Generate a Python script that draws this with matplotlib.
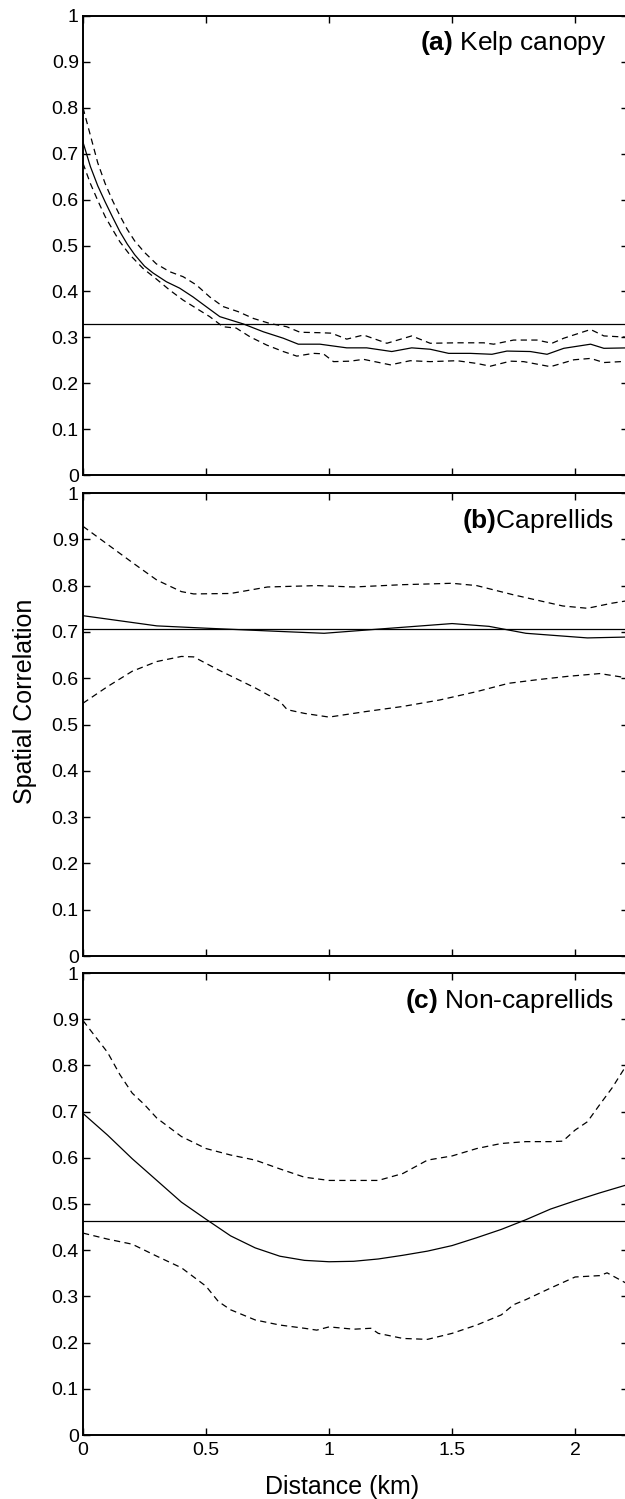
import matplotlib.pyplot as plt

plt.rcParams['font.family'] = ['Liberation Sans', 'DejaVu Sans']
plt.rcParams['mathtext.fontset'] = 'custom'
plt.rcParams['mathtext.rm'] = 'Liberation Sans'
plt.rcParams['mathtext.bf'] = 'Liberation Sans:bold'

# --------------------
# (a) Kelp canopy
# --------------------
kelp_mean_x = [0, 0.03, 0.06, 0.09, 0.12, 0.15, 0.18, 0.21, 0.25, 0.285, 0.339, 0.393, 0.447,
               0.50, 0.556, 0.598, 0.652, 0.733, 0.814, 0.875, 0.963, 1.072, 1.153, 1.255,
               1.336, 1.411, 1.486, 1.574, 1.662, 1.723, 1.818, 1.886, 1.954, 2.063, 2.117, 2.22]
kelp_mean = [0.725, 0.672, 0.63, 0.595, 0.562, 0.53, 0.503, 0.48, 0.455, 0.44, 0.421, 0.407,
             0.388, 0.367, 0.345, 0.338, 0.329, 0.312, 0.298, 0.285, 0.285, 0.277, 0.277, 0.269,
             0.277, 0.274, 0.265, 0.265, 0.263, 0.27, 0.269, 0.263, 0.276, 0.285, 0.276, 0.277]
kelp_upper_x = [0, 0.03, 0.06, 0.09, 0.12, 0.15, 0.18, 0.21, 0.25, 0.298, 0.352, 0.407, 0.461,
                0.515, 0.569, 0.63, 0.693, 0.76, 0.828, 0.882, 0.963, 1.01, 1.072, 1.14,
                1.235, 1.336, 1.411, 1.52, 1.628, 1.669, 1.75, 1.845, 1.906, 1.954, 2.063,
                2.117, 2.22]
kelp_upper = [0.80, 0.74, 0.68, 0.635, 0.598, 0.565, 0.535, 0.51, 0.485, 0.46, 0.443, 0.432,
              0.414, 0.388, 0.367, 0.356, 0.341, 0.33, 0.323, 0.311, 0.31, 0.309, 0.296, 0.305,
              0.287, 0.303, 0.287, 0.288, 0.288, 0.285, 0.294, 0.294, 0.287, 0.298, 0.317,
              0.303, 0.30]
kelp_lower_x = [0, 0.03, 0.06, 0.09, 0.12, 0.15, 0.19, 0.244, 0.298, 0.352, 0.407, 0.461,
                0.515, 0.569, 0.623, 0.679, 0.747, 0.814, 0.869, 0.936, 0.977, 1.018, 1.086,
                1.14, 1.249, 1.33, 1.411, 1.52, 1.601, 1.655, 1.737, 1.791, 1.9, 1.995,
                2.063, 2.117, 2.22]
kelp_lower = [0.679, 0.635, 0.598, 0.563, 0.535, 0.508, 0.48, 0.45, 0.427, 0.403, 0.381, 0.363,
              0.345, 0.323, 0.32, 0.301, 0.283, 0.269, 0.259, 0.265, 0.264, 0.247, 0.248,
              0.252, 0.24, 0.249, 0.247, 0.249, 0.243, 0.237, 0.248, 0.247, 0.236, 0.251,
              0.254, 0.245, 0.248]
kelp_ref = 0.33

# --------------------
# (b) Caprellids
# --------------------
cap_mean_x = [0, 0.3, 0.5, 0.8, 0.98, 1.2, 1.5, 1.65, 1.8, 2.05, 2.22]
cap_mean = [0.735, 0.713, 0.708, 0.701, 0.697, 0.706, 0.718, 0.712, 0.697, 0.687, 0.689]
cap_upper_x = [0, 0.1, 0.2, 0.3, 0.4, 0.45, 0.6, 0.75, 0.95, 1.1, 1.3, 1.5, 1.6, 1.75,
               1.95, 2.05, 2.15, 2.22]
cap_upper = [0.928, 0.889, 0.85, 0.812, 0.787, 0.782, 0.783, 0.797, 0.80, 0.797, 0.802, 0.805,
             0.80, 0.78, 0.756, 0.751, 0.762, 0.768]
cap_lower_x = [0, 0.1, 0.2, 0.3, 0.4, 0.45, 0.55, 0.7, 0.8, 0.83, 0.9, 1.0, 1.15, 1.3, 1.45,
               1.6, 1.73, 1.85, 1.97, 2.1, 2.22]
cap_lower = [0.546, 0.582, 0.615, 0.636, 0.647, 0.646, 0.618, 0.579, 0.55, 0.532, 0.524, 0.516,
             0.528, 0.539, 0.553, 0.571, 0.589, 0.597, 0.604, 0.61, 0.60]
cap_ref = 0.707

# --------------------
# (c) Non-caprellids
# --------------------
non_mean_x = [0, 0.1, 0.2, 0.3, 0.4, 0.5, 0.6, 0.7, 0.8, 0.9, 1.0, 1.1, 1.2, 1.3, 1.4, 1.5,
              1.6, 1.7, 1.8, 1.9, 2.0, 2.1, 2.22]
non_mean = [0.696, 0.649, 0.598, 0.551, 0.504, 0.467, 0.431, 0.405, 0.387, 0.378, 0.375, 0.376,
            0.381, 0.389, 0.398, 0.41, 0.427, 0.445, 0.466, 0.489, 0.507, 0.524, 0.543]
non_upper_x = [0, 0.1, 0.15, 0.2, 0.25, 0.3, 0.4, 0.5, 0.6, 0.7, 0.8, 0.9, 1.0, 1.1, 1.2, 1.3,
               1.4, 1.5, 1.6, 1.7, 1.8, 1.9, 1.95, 2.0, 2.05, 2.1, 2.15, 2.22]
non_upper = [0.897, 0.828, 0.78, 0.74, 0.715, 0.686, 0.646, 0.62, 0.606, 0.595, 0.576, 0.558,
             0.551, 0.551, 0.551, 0.566, 0.595, 0.604, 0.62, 0.631, 0.635, 0.635, 0.636, 0.66,
             0.678, 0.715, 0.751, 0.81]
non_lower_x = [0, 0.1, 0.2, 0.3, 0.4, 0.5, 0.55, 0.6, 0.7, 0.8, 0.9, 0.95, 1.0, 1.1, 1.17, 1.2,
               1.3, 1.4, 1.5, 1.6, 1.7, 1.75, 1.8, 1.9, 2.0, 2.1, 2.13, 2.22]
non_lower = [0.437, 0.424, 0.413, 0.387, 0.362, 0.322, 0.289, 0.271, 0.249, 0.238, 0.231, 0.227,
             0.234, 0.229, 0.231, 0.22, 0.209, 0.207, 0.22, 0.238, 0.26, 0.282, 0.293, 0.318,
             0.342, 0.345, 0.351, 0.325]
non_ref = 0.464

panels = [
    (kelp_mean_x, kelp_mean, kelp_upper_x, kelp_upper, kelp_lower_x, kelp_lower, kelp_ref,
     r'$\mathbf{(a)}$ Kelp canopy', 2.13),
    (cap_mean_x, cap_mean, cap_upper_x, cap_upper, cap_lower_x, cap_lower, cap_ref,
     r'$\mathbf{(b)}$Caprellids', 2.16),
    (non_mean_x, non_mean, non_upper_x, non_upper, non_lower_x, non_lower, non_ref,
     r'$\mathbf{(c)}$ Non-caprellids', 2.16),
]

W, H = 625, 1499
fig = plt.figure(figsize=(W / 100, H / 100), dpi=100)

# axes boxes in pixels: (top, bottom)
boxes = [(16, 475), (493, 956), (973, 1435)]
left_px, right_px = 83, 628

yticks = [i / 10 for i in range(11)]
ylabels = ['0'] + ['%.1f' % v for v in yticks[1:-1]] + ['1']

for i, (box, p) in enumerate(zip(boxes, panels)):
    top, bottom = box
    ax = fig.add_axes([left_px / W, 1 - bottom / H, (right_px - left_px) / W, (bottom - top) / H])
    mx, m, ux, u, lx, l, ref, title, tx = p

    ax.plot(mx, m, color='black', lw=0.9)
    ax.plot(ux, u, color='black', lw=0.9, dashes=(5, 3.5))
    ax.plot(lx, l, color='black', lw=0.9, dashes=(5, 3.5))
    ax.axhline(ref, color='black', lw=0.9)

    ax.set_xlim(0, 2.215)
    ax.set_ylim(0, 1)
    ax.set_yticks(yticks)
    ax.set_yticklabels(ylabels)
    ax.set_xticks([0, 0.5, 1, 1.5, 2])
    if i == 2:
        ax.set_xticklabels(['0', '0.5', '1', '1.5', '2'])
    else:
        ax.set_xticklabels([])

    ax.tick_params(direction='in', length=5, width=1, top=True, right=True, labelsize=14)
    ax.tick_params(axis='y', pad=3)
    ax.tick_params(axis='x', pad=5)
    for s in ax.spines.values():
        s.set_linewidth(1.4)

    ax.text(tx, 0.925, title, ha='right', va='baseline', fontsize=19)

fig.text(25 / W, 1 - 701 / H, 'Spatial Correlation', rotation=90, ha='center', va='center', fontsize=18)
fig.text(342 / W, 1 - 1487 / H, 'Distance (km)', ha='center', va='center', fontsize=18)

fig.savefig('out.png', dpi=100)
